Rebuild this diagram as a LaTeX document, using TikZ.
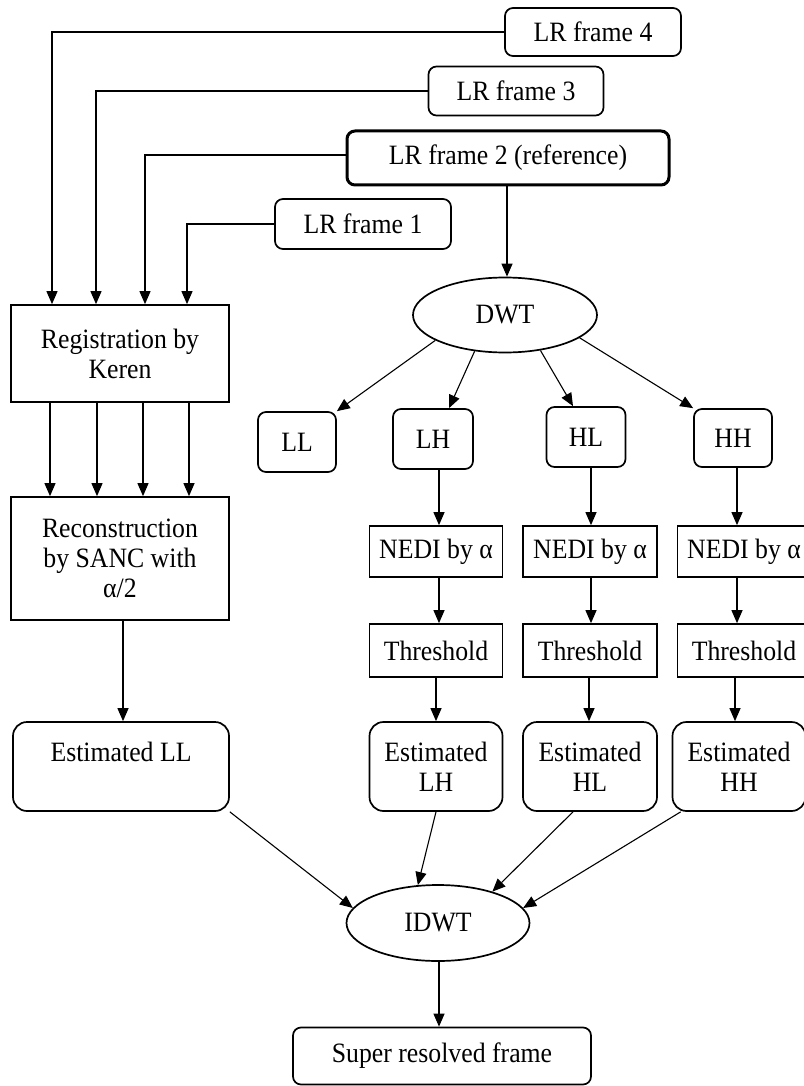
\documentclass[tikz,border=0pt]{standalone}
\usepackage{fontspec}
\setmainfont{Liberation Serif}[FakeStretch=0.92]
\usetikzlibrary{arrows.meta,shapes.geometric}
\begin{document}
\begin{tikzpicture}[x=1pt,y=-1pt,
  every node/.style={font=\fontsize{28}{30}\selectfont, inner sep=0pt, align=center},
  rbox/.style={draw, line width=1.7pt, rounded corners=8pt},
  sbox/.style={draw, line width=1.7pt},
  ebox/.style={draw, line width=1.7pt, rounded corners=14pt},
  ell/.style={draw, ellipse, line width=1.7pt},
  arr/.style={line width=1.1pt, -{Triangle[length=13pt,width=11pt]}}]
\useasboundingbox (0,0) rectangle (803,1086);
% input frames
\node[rbox, minimum width=176pt, minimum height=48pt] (f4) at (593,32) {LR frame 4};
\node[rbox, minimum width=175pt, minimum height=49pt] (f3) at (516,91) {LR frame 3};
\node[rbox, line width=3pt, minimum width=322pt, minimum height=54pt] (f2) at (508,158) {LR frame 2 (reference)};
\node[rbox, minimum width=176pt, minimum height=50pt] (f1) at (363,224) {LR frame 1};
% left branch
\node[sbox, minimum width=218pt, minimum height=97pt] (reg) at (120,353.5) {Registration by\\Keren};
\node[sbox, minimum width=218pt, minimum height=123pt] (rec) at (120,558.5) {Reconstruction\\by SANC with\\α/2};
\node[ebox, minimum width=216pt, minimum height=89pt] (estll) at (121,766.5) {Estimated LL\\\mbox{}};
% DWT branch
\node[ell, minimum width=184pt, minimum height=75pt] (dwt) at (505,315) {DWT};
\node[rbox, minimum width=78pt, minimum height=60pt] (ll) at (297,442) {LL};
\node[rbox, minimum width=80pt, minimum height=60pt] (lh) at (433,439) {LH};
\node[rbox, minimum width=79pt, minimum height=60pt] (hl) at (586,437) {HL};
\node[rbox, minimum width=78pt, minimum height=58pt] (hh) at (733,438) {HH};
\node[sbox, minimum width=133pt, minimum height=51pt] (nlh) at (436,551.5) {NEDI by α};
\node[sbox, minimum width=134pt, minimum height=51pt] (nhl) at (590,551.5) {NEDI by α};
\node[sbox, minimum width=133pt, minimum height=51pt] (nhh) at (744,551.5) {NEDI by α};
\node[sbox, minimum width=133pt, minimum height=53pt] (tlh) at (436,650.5) {Threshold};
\node[sbox, minimum width=134pt, minimum height=53pt] (thl) at (590,650.5) {Threshold};
\node[sbox, minimum width=133pt, minimum height=53pt] (thh) at (744,650.5) {Threshold};
\node[ebox, minimum width=133pt, minimum height=89pt] (elh) at (436,766.5) {Estimated\\LH};
\node[ebox, minimum width=134pt, minimum height=89pt] (ehl) at (590,766.5) {Estimated\\HL};
\node[ebox, minimum width=133pt, minimum height=89pt] (ehh) at (739,766.5) {Estimated\\HH};
% output
\node[ell, minimum width=183pt, minimum height=76pt] (idwt) at (438,923) {IDWT};
\node[rbox, minimum width=298pt, minimum height=57pt] (srf) at (442,1056) {Super resolved frame};
% connectors: frames to registration
\draw[arr] (f4.west) -| ([xshift=-68pt]reg.north);
\draw[arr] (f3.west) -| ([xshift=-24pt]reg.north);
\draw[arr] ([yshift=3pt]f2.west) -| ([xshift=25pt]reg.north);
\draw[arr] (f1.west) -| ([xshift=67pt]reg.north);
\foreach \dx in {-70,-23,23,69}
  \draw[arr] ([xshift=\dx pt]reg.south) -- ([xshift=\dx pt]rec.north);
\draw[arr] ([xshift=3pt]rec.south) -- ([xshift=2pt]estll.north);
% DWT
\draw[arr] ([xshift=-1pt]f2.south) -- ([xshift=-1pt]f2.south |- dwt.north);
\draw[arr] (dwt.200) -- (ll.north east);
\draw[arr] (dwt.230) -- ([xshift=16pt]lh.north);
\draw[arr] (dwt.315) -- ([xshift=-13pt]hl.north);
\draw[arr] (dwt.343) -- (hh.north west);
\draw[arr] ([xshift=6pt]lh.south) -- ([xshift=3pt]nlh.north);
\draw[arr] ([xshift=5pt]hl.south) -- ([xshift=1pt]nhl.north);
\draw[arr] ([xshift=4pt]hh.south) -- ([xshift=-7pt]nhh.north);
\draw[arr] ([xshift=3pt]nlh.south) -- ([xshift=3pt]tlh.north);
\draw[arr] ([xshift=1pt]nhl.south) -- ([xshift=1pt]thl.north);
\draw[arr] ([xshift=-7pt]nhh.south) -- ([xshift=-7pt]thh.north);
\draw[arr] (tlh.south) -- (elh.north);
\draw[arr] ([xshift=-1pt]thl.south) -- ([xshift=-1pt]ehl.north);
\draw[arr] ([xshift=-9pt]thh.south) -- ([xshift=-4pt]ehh.north);
% to IDWT
\draw[arr] (estll.south east) -- (idwt.170);
\draw[arr] (elh.south) -- (idwt.118);
\draw[arr] ([xshift=-17pt]ehl.south) -- (idwt.30);
\draw[arr] ([xshift=9pt]ehh.south west) -- (idwt.10);
\draw[arr] ([xshift=1pt]idwt.south) -- ([xshift=-3pt]srf.north);
\end{tikzpicture}
\end{document}
